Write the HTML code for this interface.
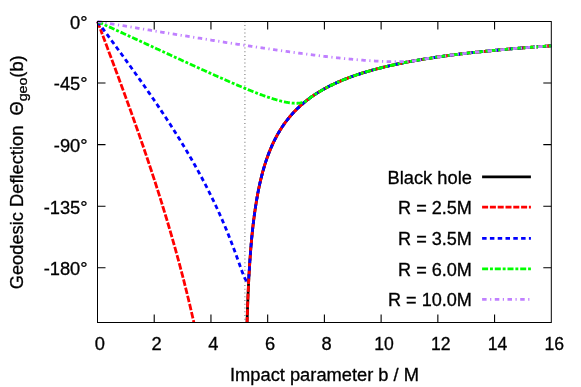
<!DOCTYPE html>
<html><head><meta charset="utf-8"><title>Geodesic Deflection</title>
<style>
html,body{margin:0;padding:0;background:#fff;}
body{width:581px;height:387px;overflow:hidden;}
svg{display:block;will-change:transform;}
text{font-family:"Liberation Sans",sans-serif;fill:#000;stroke:#000;stroke-width:0.3px;}
</style></head><body>
<svg width="581" height="387" viewBox="0 0 581 387">
<rect x="0" y="0" width="581" height="387" fill="#ffffff"/>
<path d="M154.22,322.50 v-8.00 M154.22,21.50 v8.00 M210.95,322.50 v-8.00 M210.95,21.50 v8.00 M267.67,322.50 v-8.00 M267.67,21.50 v8.00 M324.40,322.50 v-8.00 M324.40,21.50 v8.00 M381.12,322.50 v-8.00 M381.12,21.50 v8.00 M437.85,322.50 v-8.00 M437.85,21.50 v8.00 M494.57,322.50 v-8.00 M494.57,21.50 v8.00 M97.50,83.07 h8.00 M551.30,83.07 h-8.00 M97.50,144.64 h8.00 M551.30,144.64 h-8.00 M97.50,206.20 h8.00 M551.30,206.20 h-8.00 M97.50,267.77 h8.00 M551.30,267.77 h-8.00" stroke="#000" stroke-width="1.1" fill="none"/>
<path d="M244.88,21.15 V322.50" stroke="#949494" stroke-width="1.4" stroke-dasharray="1 2.768" fill="none"/>
<g fill="none" stroke-width="2.80" stroke-linejoin="round">
<path d="M247.08,322.50 L247.08,322.21 L247.14,320.28 L247.20,318.40 L247.25,316.57 L247.31,314.79 L247.37,313.04 L247.42,311.34 L247.48,309.67 L247.54,308.05 L247.59,306.45 L247.65,304.90 L247.71,303.37 L247.76,301.88 L247.82,300.41 L247.88,298.97 L247.93,297.57 L247.99,296.19 L248.05,294.83 L248.10,293.50 L248.16,292.19 L248.22,290.91 L248.28,289.65 L248.33,288.41 L248.39,287.19 L248.45,286.00 L248.50,284.82 L248.56,283.66 L248.62,282.52 L248.67,281.40 L248.73,280.29 L248.79,279.20 L248.84,278.13 L248.90,277.07 L248.96,276.03 L249.01,275.01 L249.07,274.00 L249.13,273.00 L249.18,272.02 L249.24,271.05 L249.30,270.09 L249.35,269.15 L249.41,268.21 L249.47,267.30 L249.52,266.39 L249.58,265.49 L249.64,264.61 L249.69,263.74 L249.75,262.87 L249.81,262.02 L249.86,261.18 L249.92,260.35 L249.98,259.53 L250.03,258.71 L250.09,257.91 L250.15,257.12 L250.20,256.33 L250.26,255.56 L250.32,254.79 L250.37,254.03 L250.43,253.28 L250.49,252.54 L250.54,251.80 L250.60,251.07 L250.66,250.35 L250.71,249.64 L250.77,248.94 L250.83,248.24 L250.88,247.55 L250.94,246.87 L251.00,246.19 L251.05,245.52 L251.11,244.86 L251.17,244.20 L251.22,243.55 L251.28,242.90 L251.34,242.26 L251.39,241.63 L251.45,241.00 L251.51,240.38 L251.57,239.77 L251.62,239.16 L251.68,238.55 L251.74,237.95 L251.79,237.36 L251.85,236.77 L251.91,236.19 L251.96,235.61 L252.02,235.04 L252.08,234.47 L252.13,233.90 L252.19,233.34 L252.25,232.79 L252.30,232.24 L252.36,231.69 L252.42,231.15 L252.47,230.62 L252.53,230.08 L252.59,229.56 L252.64,229.03 L252.70,228.51 L252.76,228.00 L252.81,227.48 L252.87,226.98 L252.93,226.47 L252.98,225.97 L253.04,225.48 L253.10,224.98 L253.15,224.49 L253.21,224.01 L253.27,223.53 L253.32,223.05 L253.38,222.57 L253.44,222.10 L253.49,221.63 L253.55,221.17 L253.61,220.71 L253.66,220.25 L253.72,219.79 L253.78,219.34 L253.83,218.89 L253.89,218.45 L253.95,218.01 L254.00,217.57 L254.06,217.13 L254.12,216.70 L254.17,216.26 L254.23,215.84 L254.29,215.41 L254.34,214.99 L254.40,214.57 L254.46,214.15 L254.51,213.74 L254.57,213.33 L254.63,212.92 L254.68,212.51 L254.74,212.11 L254.80,211.71 L254.86,211.31 L254.91,210.91 L254.97,210.52 L255.03,210.13 L255.08,209.74 L255.14,209.35 L255.20,208.97 L255.25,208.58 L255.31,208.20 L255.37,207.83 L255.42,207.45 L255.48,207.08 L255.54,206.71 L255.59,206.34 L255.65,205.97 L255.71,205.61 L255.76,205.25 L255.82,204.89 L255.88,204.53 L255.93,204.17 L255.99,203.82 L256.05,203.46 L256.10,203.11 L256.16,202.77 L256.22,202.42 L256.27,202.08 L256.33,201.73 L256.90,198.41 L257.46,195.25 L258.03,192.25 L258.60,189.39 L259.17,186.66 L259.73,184.05 L260.30,181.55 L260.87,179.15 L261.44,176.85 L262.00,174.64 L262.57,172.50 L263.14,170.45 L263.70,168.47 L264.27,166.55 L264.84,164.70 L265.41,162.91 L265.97,161.18 L266.54,159.50 L267.11,157.87 L267.67,156.28 L268.24,154.75 L268.81,153.26 L269.38,151.81 L269.94,150.39 L270.51,149.02 L271.08,147.68 L271.65,146.38 L272.21,145.11 L272.78,143.87 L273.35,142.66 L273.91,141.48 L274.48,140.33 L275.05,139.20 L275.62,138.10 L276.18,137.02 L276.75,135.97 L277.32,134.94 L277.89,133.93 L278.45,132.95 L279.02,131.98 L279.59,131.03 L280.15,130.11 L280.72,129.20 L281.29,128.31 L281.86,127.43 L282.42,126.57 L282.99,125.73 L283.56,124.91 L284.13,124.10 L284.69,123.30 L285.26,122.52 L285.83,121.75 L286.39,121.00 L286.96,120.25 L287.53,119.53 L288.10,118.81 L288.66,118.10 L289.23,117.41 L289.80,116.73 L290.37,116.06 L290.93,115.40 L291.50,114.75 L292.07,114.11 L292.63,113.48 L293.20,112.86 L293.77,112.25 L294.34,111.65 L294.90,111.06 L295.47,110.47 L296.04,109.90 L296.60,109.33 L297.17,108.77 L297.74,108.22 L298.31,107.68 L298.87,107.14 L299.44,106.61 L300.01,106.09 L300.58,105.58 L301.14,105.07 L301.71,104.57 L302.28,104.08 L302.84,103.59 L303.41,103.11 L303.98,102.64 L304.55,102.17 L305.11,101.71 L305.68,101.25 L306.25,100.80 L306.82,100.35 L307.38,99.91 L307.95,99.48 L308.52,99.05 L309.08,98.62 L309.65,98.21 L310.22,97.79 L310.79,97.38 L311.35,96.98 L311.92,96.58 L312.49,96.18 L313.05,95.79 L313.62,95.41 L314.19,95.03 L314.76,94.65 L315.32,94.27 L315.89,93.91 L316.46,93.54 L317.03,93.18 L317.59,92.82 L318.16,92.47 L318.73,92.12 L319.29,91.77 L319.86,91.43 L320.43,91.09 L321.00,90.76 L321.56,90.42 L322.13,90.10 L322.70,89.77 L323.27,89.45 L323.83,89.13 L324.40,88.82 L325.82,88.04 L327.24,87.29 L328.65,86.55 L330.07,85.83 L331.49,85.13 L332.91,84.44 L334.33,83.77 L335.75,83.11 L337.16,82.47 L338.58,81.85 L340.00,81.23 L341.42,80.63 L342.84,80.04 L344.25,79.47 L345.67,78.90 L347.09,78.35 L348.51,77.81 L349.93,77.28 L351.34,76.76 L352.76,76.25 L354.18,75.75 L355.60,75.26 L357.02,74.78 L358.44,74.31 L359.85,73.84 L361.27,73.39 L362.69,72.94 L364.11,72.50 L365.53,72.07 L366.94,71.65 L368.36,71.23 L369.78,70.82 L371.20,70.42 L372.62,70.02 L374.03,69.63 L375.45,69.25 L376.87,68.87 L378.29,68.50 L379.71,68.14 L381.12,67.78 L382.54,67.43 L383.96,67.08 L385.38,66.74 L386.80,66.40 L388.22,66.07 L389.63,65.75 L391.05,65.42 L392.47,65.11 L393.89,64.80 L395.31,64.49 L396.72,64.19 L398.14,63.89 L399.56,63.59 L400.98,63.30 L402.40,63.02 L403.81,62.74 L405.23,62.46 L406.65,62.18 L408.07,61.91 L409.49,61.65 L410.91,61.38 L412.32,61.12 L413.74,60.87 L415.16,60.62 L416.58,60.37 L418.00,60.12 L419.41,59.88 L420.83,59.64 L422.25,59.40 L423.67,59.17 L425.09,58.93 L426.50,58.71 L427.92,58.48 L429.34,58.26 L430.76,58.04 L432.18,57.82 L433.60,57.61 L435.01,57.40 L436.43,57.19 L437.85,56.98 L439.27,56.78 L440.69,56.57 L442.10,56.37 L443.52,56.18 L444.94,55.98 L446.36,55.79 L447.78,55.60 L449.19,55.41 L450.61,55.22 L452.03,55.04 L453.45,54.86 L454.87,54.68 L456.29,54.50 L457.70,54.32 L459.12,54.15 L460.54,53.98 L461.96,53.80 L463.38,53.64 L464.79,53.47 L466.21,53.30 L467.63,53.14 L469.05,52.98 L470.47,52.82 L471.88,52.66 L473.30,52.50 L474.72,52.35 L476.14,52.19 L477.56,52.04 L478.98,51.89 L480.39,51.74 L481.81,51.59 L483.23,51.45 L484.65,51.30 L486.07,51.16 L487.48,51.02 L488.90,50.88 L490.32,50.74 L491.74,50.60 L493.16,50.46 L494.57,50.33 L495.99,50.19 L497.41,50.06 L498.83,49.93 L500.25,49.80 L501.67,49.67 L503.08,49.54 L504.50,49.42 L505.92,49.29 L507.34,49.17 L508.76,49.04 L510.17,48.92 L511.59,48.80 L513.01,48.68 L514.43,48.56 L515.85,48.44 L517.26,48.33 L518.68,48.21 L520.10,48.09 L521.52,47.98 L522.94,47.87 L524.36,47.76 L525.77,47.65 L527.19,47.54 L528.61,47.43 L530.03,47.32 L531.45,47.21 L532.86,47.10 L534.28,47.00 L535.70,46.89 L537.12,46.79 L538.54,46.69 L539.95,46.59 L541.37,46.48 L542.79,46.38 L544.21,46.29 L545.63,46.19 L547.05,46.09 L548.46,45.99 L549.88,45.89 L551.30,45.80" stroke="#000000"/>
<path d="M97.50,21.50 L98.92,25.26 L99.82,27.66 M100.46,29.34 L101.75,32.79 L102.27,34.16 M102.90,35.84 L103.17,36.56 L104.59,40.33 L105.13,41.76 M105.76,43.44 L106.01,44.10 L107.43,47.88 L108.18,49.90 M108.82,51.58 L108.84,51.66 L110.26,55.44 L111.23,58.03 M111.86,59.72 L113.10,63.03 L114.27,66.17 M114.90,67.86 L115.94,70.65 L117.29,74.31 M117.92,76.00 L118.77,78.30 L120.19,82.14 L120.30,82.45 M120.92,84.13 L121.61,85.99 L123.03,89.86 L123.29,90.58 M123.91,92.27 L124.44,93.73 L125.86,97.62 L126.26,98.72 M126.88,100.41 L127.28,101.52 L128.70,105.43 L129.21,106.86 M129.82,108.55 L130.12,109.36 L131.53,113.31 L132.14,114.99 M132.74,116.69 L132.95,117.27 L134.37,121.26 L135.04,123.13 M135.64,124.83 L135.79,125.26 L137.21,129.28 L137.91,131.27 M138.50,132.97 L138.63,133.32 L140.04,137.38 L140.75,139.41 M141.34,141.11 L141.46,141.46 L142.88,145.57 L143.56,147.54 M144.14,149.25 L144.30,149.70 L145.72,153.86 L146.33,155.68 M146.91,157.38 L147.13,158.05 L148.55,162.26 L149.07,163.82 M149.64,165.52 L149.97,166.50 L151.39,170.77 L151.78,171.95 M152.34,173.66 L152.81,175.08 L154.22,179.42 L154.44,180.09 M155.00,181.80 L155.64,183.79 L157.06,188.20 L157.07,188.23 M157.62,189.94 L158.48,192.65 L159.65,196.36 M160.19,198.08 L161.32,201.66 L162.20,204.50 M162.73,206.22 L162.73,206.23 L164.15,210.85 L164.70,212.64 M165.22,214.36 L165.57,215.51 L166.99,220.22 L167.15,220.77 M167.67,222.50 L168.41,224.98 L169.56,228.91 M170.07,230.64 L171.24,234.67 L171.93,237.05 M172.43,238.78 L172.66,239.59 L174.08,244.58 L174.25,245.18 M174.73,246.92 L175.50,249.64 L176.52,253.32 M177.00,255.06 L178.33,259.94 L178.74,261.46 M179.21,263.19 L179.75,265.21 L180.92,269.59 M181.38,271.33 L182.59,275.96 L183.04,277.73 M183.49,279.47 L184.01,281.47 L185.12,285.87 M185.56,287.61 L186.84,292.75 L187.15,294.00 M187.58,295.75 L188.26,298.53 L189.13,302.14 M189.55,303.89 L189.68,304.42 L191.06,310.28 M191.47,312.03 L192.51,316.53 L192.94,318.41 M193.34,320.17 L193.87,322.50" stroke="#ff0000"/>
<path d="M247.08,322.50 L247.08,322.21 L247.14,320.28 L247.20,318.40 L247.24,317.00 M247.30,315.20 L247.31,314.79 L247.37,313.04 L247.42,311.34 L247.48,309.67 L247.50,309.21 M247.56,307.41 L247.59,306.45 L247.65,304.90 L247.71,303.37 L247.76,301.88 L247.78,301.41 M247.85,299.61 L247.88,298.97 L247.93,297.57 L247.99,296.19 L248.05,294.83 L248.10,293.62 M248.18,291.82 L248.22,290.91 L248.28,289.65 L248.33,288.41 L248.39,287.19 L248.45,286.00 L248.45,285.83 M248.54,284.03 L248.56,283.66 L248.62,282.52 L248.67,281.40 L248.73,280.29 L248.79,279.20 L248.84,278.13 L248.85,278.04 M248.94,276.24 L248.96,276.03 L249.01,275.01 L249.07,274.00 L249.13,273.00 L249.18,272.02 L249.24,271.05 L249.29,270.25 M249.40,268.45 L249.41,268.21 L249.47,267.30 L249.52,266.39 L249.58,265.49 L249.64,264.61 L249.69,263.74 L249.75,262.87 L249.78,262.46 M249.90,260.67 L249.92,260.35 L249.98,259.53 L250.03,258.71 L250.09,257.91 L250.15,257.12 L250.20,256.33 L250.26,255.56 L250.32,254.79 L250.32,254.68 M250.46,252.89 L250.49,252.54 L250.54,251.80 L250.60,251.07 L250.66,250.35 L250.71,249.64 L250.77,248.94 L250.83,248.24 L250.88,247.55 L250.94,246.91 M251.09,245.11 L251.11,244.86 L251.17,244.20 L251.22,243.55 L251.28,242.90 L251.34,242.26 L251.39,241.63 L251.45,241.00 L251.51,240.38 L251.57,239.77 L251.62,239.16 L251.62,239.14 M251.79,237.35 L251.85,236.77 L251.91,236.19 L251.96,235.61 L252.02,235.04 L252.08,234.47 L252.13,233.90 L252.19,233.34 L252.25,232.79 L252.30,232.24 L252.36,231.69 L252.39,231.38 M252.58,229.59 L252.59,229.56 L252.64,229.03 L252.70,228.51 L252.76,228.00 L252.81,227.48 L252.87,226.98 L252.93,226.47 L252.98,225.97 L253.04,225.48 L253.10,224.98 L253.15,224.49 L253.21,224.01 L253.26,223.62 M253.47,221.84 L253.49,221.63 L253.55,221.17 L253.61,220.71 L253.66,220.25 L253.72,219.79 L253.78,219.34 L253.83,218.89 L253.89,218.45 L253.95,218.01 L254.00,217.57 L254.06,217.13 L254.12,216.70 L254.17,216.26 L254.22,215.88 M254.47,214.10 L254.51,213.74 L254.57,213.33 L254.63,212.92 L254.68,212.51 L254.74,212.11 L254.80,211.71 L254.86,211.31 L254.91,210.91 L254.97,210.52 L255.03,210.13 L255.08,209.74 L255.14,209.35 L255.20,208.97 L255.25,208.58 L255.31,208.20 L255.32,208.16 M255.59,206.38 L255.59,206.34 L255.65,205.97 L255.71,205.61 L255.76,205.25 L255.82,204.89 L255.88,204.53 L255.93,204.17 L255.99,203.82 L256.05,203.46 L256.10,203.11 L256.16,202.77 L256.22,202.42 L256.27,202.08 L256.33,201.73 L256.55,200.46 M256.85,198.68 L256.90,198.41 L257.46,195.25 L257.93,192.78 M258.28,191.02 L258.60,189.39 L259.17,186.66 L259.50,185.14 M259.89,183.38 L260.30,181.55 L260.87,179.15 L261.26,177.55 M261.70,175.80 L262.00,174.64 L262.57,172.50 L263.14,170.45 L263.26,170.01 M263.76,168.28 L264.27,166.55 L264.84,164.70 L265.41,162.91 L265.53,162.54 M266.09,160.83 L266.54,159.50 L267.11,157.87 L267.67,156.28 L268.09,155.17 M268.72,153.49 L268.81,153.26 L269.38,151.81 L269.94,150.39 L270.51,149.02 L270.97,147.93 M271.69,146.28 L272.21,145.11 L272.78,143.87 L273.35,142.66 L273.91,141.48 L274.23,140.84 M275.03,139.23 L275.05,139.20 L275.62,138.10 L276.18,137.02 L276.75,135.97 L277.32,134.94 L277.88,133.95 M278.78,132.39 L279.02,131.98 L279.59,131.03 L280.15,130.11 L280.72,129.20 L281.29,128.31 L281.86,127.43 L281.95,127.30 M282.95,125.80 L282.99,125.73 L283.56,124.91 L284.13,124.10 L284.69,123.30 L285.26,122.52 L285.83,121.75 L286.39,121.00 L286.45,120.93 M287.55,119.50 L288.10,118.81 L288.66,118.10 L289.23,117.41 L289.80,116.73 L290.37,116.06 L290.93,115.40 L291.38,114.89 M292.58,113.54 L292.63,113.48 L293.20,112.86 L293.77,112.25 L294.34,111.65 L294.90,111.06 L295.47,110.47 L296.04,109.90 L296.60,109.33 L296.73,109.21 M298.02,107.96 L298.31,107.68 L298.87,107.14 L299.44,106.61 L300.01,106.09 L300.58,105.58 L301.14,105.07 L301.71,104.57 L302.28,104.08 L302.46,103.92 M303.83,102.76 L303.98,102.64 L304.55,102.17 L305.11,101.71 L305.68,101.25 L306.25,100.80 L306.82,100.35 L307.38,99.91 L307.95,99.48 L308.52,99.05 L308.53,99.04 M309.98,97.96 L310.22,97.79 L310.79,97.38 L311.35,96.98 L311.92,96.58 L312.49,96.18 L313.05,95.79 L313.62,95.41 L314.19,95.03 L314.76,94.65 L314.91,94.55 M316.42,93.56 L316.46,93.54 L317.03,93.18 L317.59,92.82 L318.16,92.47 L318.73,92.12 L319.29,91.77 L319.86,91.43 L320.43,91.09 L321.00,90.76 L321.54,90.44 M323.10,89.54 L323.27,89.45 L323.83,89.13 L324.40,88.82 L325.82,88.04 L327.24,87.29 L328.38,86.69 M329.99,85.87 L330.07,85.83 L331.49,85.13 L332.91,84.44 L334.33,83.77 L335.39,83.28 M337.03,82.53 L337.16,82.47 L338.58,81.85 L340.00,81.23 L341.42,80.63 L342.54,80.16 M344.21,79.48 L344.25,79.47 L345.67,78.90 L347.09,78.35 L348.51,77.81 L349.81,77.32 M351.50,76.70 L352.76,76.25 L354.18,75.75 L355.60,75.26 L357.02,74.78 L357.16,74.73 M358.87,74.16 L359.85,73.84 L361.27,73.39 L362.69,72.94 L364.11,72.50 L364.59,72.35 M366.32,71.83 L366.94,71.65 L368.36,71.23 L369.78,70.82 L371.20,70.42 L372.08,70.17 M373.82,69.69 L374.03,69.63 L375.45,69.25 L376.87,68.87 L378.29,68.50 L379.62,68.16 M381.36,67.72 L382.54,67.43 L383.96,67.08 L385.38,66.74 L386.80,66.40 L387.20,66.31 M388.95,65.90 L389.63,65.75 L391.05,65.42 L392.47,65.11 L393.89,64.80 L394.80,64.60 M396.56,64.22 L396.72,64.19 L398.14,63.89 L399.56,63.59 L400.98,63.30 L402.40,63.02 L402.44,63.01 M404.21,62.66 L405.23,62.46 L406.65,62.18 L408.07,61.91 L409.49,61.65 L410.10,61.53 M411.87,61.21 L412.32,61.12 L413.74,60.87 L415.16,60.62 L416.58,60.37 L417.78,60.16 M419.55,59.85 L420.83,59.64 L422.25,59.40 L423.67,59.17 L425.09,58.93 L425.47,58.87 M427.25,58.59 L427.92,58.48 L429.34,58.26 L430.76,58.04 L432.18,57.82 L433.18,57.67 M434.96,57.40 L435.01,57.40 L436.43,57.19 L437.85,56.98 L439.27,56.78 L440.69,56.57 L440.90,56.54 M442.68,56.29 L443.52,56.18 L444.94,55.98 L446.36,55.79 L447.78,55.60 L448.62,55.49 M450.41,55.25 L450.61,55.22 L452.03,55.04 L453.45,54.86 L454.87,54.68 L456.29,54.50 L456.36,54.49 M458.15,54.27 L459.12,54.15 L460.54,53.98 L461.96,53.80 L463.38,53.64 L464.10,53.55 M465.89,53.34 L466.21,53.30 L467.63,53.14 L469.05,52.98 L470.47,52.82 L471.85,52.66 M473.64,52.47 L474.72,52.35 L476.14,52.19 L477.56,52.04 L478.98,51.89 L479.61,51.82 M481.40,51.64 L481.81,51.59 L483.23,51.45 L484.65,51.30 L486.07,51.16 L487.37,51.03 M489.16,50.85 L490.32,50.74 L491.74,50.60 L493.16,50.46 L494.57,50.33 L495.13,50.28 M496.92,50.11 L497.41,50.06 L498.83,49.93 L500.25,49.80 L501.67,49.67 L502.90,49.56 M504.69,49.40 L505.92,49.29 L507.34,49.17 L508.76,49.04 L510.17,48.92 L510.67,48.88 M512.46,48.73 L513.01,48.68 L514.43,48.56 L515.85,48.44 L517.26,48.33 L518.44,48.23 M520.23,48.08 L521.52,47.98 L522.94,47.87 L524.36,47.76 L525.77,47.65 L526.22,47.61 M528.01,47.47 L528.61,47.43 L530.03,47.32 L531.45,47.21 L532.86,47.10 L533.99,47.02 M535.79,46.89 L537.12,46.79 L538.54,46.69 L539.95,46.59 L541.37,46.48 L541.77,46.46 M543.57,46.33 L544.21,46.29 L545.63,46.19 L547.05,46.09 L548.46,45.99 L549.55,45.92" stroke="#ff0000"/>
<path d="M97.50,21.50 L98.92,23.42 L100.34,25.34 L101.75,27.26 L103.17,29.18 L104.59,31.10 L106.01,33.03 L107.43,34.95 L108.84,36.87 L110.26,38.80 L111.68,40.73 L113.10,42.66 L114.52,44.59 L115.94,46.52 L117.35,48.46 L118.77,50.40 L120.19,52.34 L121.61,54.29 L123.03,56.23 L124.44,58.18 L125.86,60.14 L127.28,62.10 L128.70,64.06 L130.12,66.03 L131.53,68.00 L132.95,69.97 L134.37,71.95 L135.79,73.94 L137.21,75.93 L138.63,77.93 L140.04,79.93 L141.46,81.94 L142.88,83.95 L144.30,85.98 L145.72,88.00 L147.13,90.04 L148.55,92.08 L149.97,94.13 L151.39,96.19 L152.81,98.26 L154.22,100.33 L155.64,102.42 L157.06,104.51 L158.48,106.61 L159.90,108.72 L161.32,110.85 L162.73,112.98 L164.15,115.12 L165.57,117.28 L166.99,119.45 L168.41,121.63 L169.82,123.82 L171.24,126.02 L172.66,128.24 L174.08,130.48 L175.50,132.72 L176.92,134.99 L178.33,137.26 L179.75,139.56 L181.17,141.87 L182.59,144.20 L184.01,146.54 L185.42,148.91 L186.84,151.29 L188.26,153.69 L189.68,156.12 L191.10,158.56 L192.51,161.03 L193.93,163.52 L195.35,166.04 L196.77,168.58 L198.19,171.15 L199.60,173.74 L201.02,176.37 L202.44,179.02 L203.86,181.70 L205.28,184.42 L206.70,187.17 L208.11,189.95 L209.53,192.77 L210.95,195.63 L212.37,198.53 L213.79,201.47 L215.20,204.45 L216.62,207.48 L218.04,210.56 L219.46,213.69 L220.88,216.87 L222.30,220.10 L223.71,223.39 L225.13,226.74 L226.55,230.16 L227.97,233.64 L229.39,237.18 L230.80,240.80 L232.22,244.48 L233.64,248.24 L235.06,252.06 L236.48,255.94 L237.89,259.87 L239.31,263.83 L240.73,267.78 L242.15,271.65 L243.57,275.31 L243.85,276.00 L243.91,276.13 L243.96,276.27 L244.02,276.40 L244.08,276.53 L244.13,276.66 L244.19,276.80 L244.25,276.93 L244.30,277.05 L244.36,277.18 L244.42,277.31 L244.47,277.43 L244.53,277.56 L244.59,277.68 L244.64,277.80 L244.70,277.92 L244.76,278.04 L244.81,278.16 L244.87,278.28 L244.93,278.39 L244.98,278.51 L245.04,278.62 L245.10,278.73 L245.16,278.84 L245.21,278.95 L245.27,279.05 L245.33,279.16 L245.38,279.26 L245.44,279.36 L245.50,279.46 L245.55,279.55 L245.61,279.65 L245.67,279.74 L245.72,279.83 L245.78,279.91 L245.84,280.00 L245.89,280.08 L245.95,280.16 L246.01,280.24 L246.06,280.31 L246.12,280.38 L246.18,280.45 L246.23,280.52 L246.29,280.58 L246.35,280.64 L246.40,280.69 L246.46,280.74 L246.52,280.79 L246.57,280.84 L246.63,280.88 L246.69,280.91 L246.74,280.95 L246.80,280.97 L246.86,281.00 L246.91,281.01 L246.97,281.03 L247.03,281.03 L247.08,281.04 L247.14,281.03 L247.20,281.02 L247.25,281.01 L247.31,280.99 L247.37,280.96 L247.42,280.92 L247.48,280.88 L247.54,280.83 L247.59,280.77 L247.65,280.70 L247.71,280.62 L247.76,280.54 L247.82,280.44 L247.88,280.33 L247.93,280.22 L247.99,280.09 L248.05,279.94 L248.10,279.79 L248.16,279.62 L248.22,279.44 L248.28,279.24 L248.33,279.02 L248.39,278.79 L248.45,278.54 L248.50,278.26 L248.56,277.97 L248.62,277.65 L248.67,277.30 L248.73,276.92 L248.79,276.51 L248.84,276.07 L248.90,275.58 L248.96,275.04 L249.01,274.44 L249.07,273.77 L249.13,272.99 L249.18,272.02 L249.24,271.05 L249.30,270.09 L249.35,269.15 L249.41,268.21 L249.47,267.30 L249.52,266.39 L249.58,265.49 L249.64,264.61 L249.69,263.74 L249.75,262.87 L249.81,262.02 L249.86,261.18 L249.92,260.35 L249.98,259.53 L250.03,258.71 L250.09,257.91 L250.15,257.12 L250.20,256.33 L250.26,255.56 L250.32,254.79 L250.37,254.03 L250.43,253.28 L250.49,252.54 L250.54,251.80 L250.60,251.07 L250.66,250.35 L250.71,249.64 L250.77,248.94 L250.83,248.24 L250.88,247.55 L250.94,246.87 L251.00,246.19 L251.05,245.52 L251.11,244.86 L251.17,244.20 L251.22,243.55 L251.28,242.90 L251.34,242.26 L251.39,241.63 L251.45,241.00 L251.51,240.38 L251.57,239.77 L251.62,239.16 L251.68,238.55 L251.74,237.95 L251.79,237.36 L251.85,236.77 L251.91,236.19 L251.96,235.61 L252.02,235.04 L252.08,234.47 L252.13,233.90 L252.19,233.34 L252.25,232.79 L252.30,232.24 L252.36,231.69 L252.42,231.15 L252.47,230.62 L252.53,230.08 L252.59,229.56 L252.64,229.03 L252.70,228.51 L252.76,228.00 L252.81,227.48 L252.87,226.98 L252.93,226.47 L252.98,225.97 L253.04,225.48 L253.10,224.98 L253.15,224.49 L253.21,224.01 L253.27,223.53 L253.32,223.05 L253.38,222.57 L253.44,222.10 L253.49,221.63 L253.55,221.17 L253.61,220.71 L253.66,220.25 L253.72,219.79 L253.78,219.34 L253.83,218.89 L253.89,218.45 L253.95,218.01 L254.00,217.57 L254.06,217.13 L254.12,216.70 L254.17,216.26 L254.23,215.84 L254.29,215.41 L254.34,214.99 L254.40,214.57 L254.46,214.15 L254.51,213.74 L254.57,213.33 L254.63,212.92 L254.68,212.51 L254.74,212.11 L254.80,211.71 L254.86,211.31 L254.91,210.91 L254.97,210.52 L255.03,210.13 L255.08,209.74 L255.14,209.35 L255.20,208.97 L255.25,208.58 L255.31,208.20 L255.37,207.83 L255.42,207.45 L255.48,207.08 L255.54,206.71 L255.59,206.34 L255.65,205.97 L255.71,205.61 L255.76,205.25 L255.82,204.89 L255.88,204.53 L255.93,204.17 L255.99,203.82 L256.05,203.46 L256.10,203.11 L256.16,202.77 L256.22,202.42 L256.27,202.08 L256.33,201.73 L256.90,198.41 L257.46,195.25 L258.03,192.25 L258.60,189.39 L259.17,186.66 L259.73,184.05 L260.30,181.55 L260.87,179.15 L261.44,176.85 L262.00,174.64 L262.57,172.50 L263.14,170.45 L263.70,168.47 L264.27,166.55 L264.84,164.70 L265.41,162.91 L265.97,161.18 L266.54,159.50 L267.11,157.87 L267.67,156.28 L268.24,154.75 L268.81,153.26 L269.38,151.81 L269.94,150.39 L270.51,149.02 L271.08,147.68 L271.65,146.38 L272.21,145.11 L272.78,143.87 L273.35,142.66 L273.91,141.48 L274.48,140.33 L275.05,139.20 L275.62,138.10 L276.18,137.02 L276.75,135.97 L277.32,134.94 L277.89,133.93 L278.45,132.95 L279.02,131.98 L279.59,131.03 L280.15,130.11 L280.72,129.20 L281.29,128.31 L281.86,127.43 L282.42,126.57 L282.99,125.73 L283.56,124.91 L284.13,124.10 L284.69,123.30 L285.26,122.52 L285.83,121.75 L286.39,121.00 L286.96,120.25 L287.53,119.53 L288.10,118.81 L288.66,118.10 L289.23,117.41 L289.80,116.73 L290.37,116.06 L290.93,115.40 L291.50,114.75 L292.07,114.11 L292.63,113.48 L293.20,112.86 L293.77,112.25 L294.34,111.65 L294.90,111.06 L295.47,110.47 L296.04,109.90 L296.60,109.33 L297.17,108.77 L297.74,108.22 L298.31,107.68 L298.87,107.14 L299.44,106.61 L300.01,106.09 L300.58,105.58 L301.14,105.07 L301.71,104.57 L302.28,104.08 L302.84,103.59 L303.41,103.11 L303.98,102.64 L304.55,102.17 L305.11,101.71 L305.68,101.25 L306.25,100.80 L306.82,100.35 L307.38,99.91 L307.95,99.48 L308.52,99.05 L309.08,98.62 L309.65,98.21 L310.22,97.79 L310.79,97.38 L311.35,96.98 L311.92,96.58 L312.49,96.18 L313.05,95.79 L313.62,95.41 L314.19,95.03 L314.76,94.65 L315.32,94.27 L315.89,93.91 L316.46,93.54 L317.03,93.18 L317.59,92.82 L318.16,92.47 L318.73,92.12 L319.29,91.77 L319.86,91.43 L320.43,91.09 L321.00,90.76 L321.56,90.42 L322.13,90.10 L322.70,89.77 L323.27,89.45 L323.83,89.13 L324.40,88.82 L325.82,88.04 L327.24,87.29 L328.65,86.55 L330.07,85.83 L331.49,85.13 L332.91,84.44 L334.33,83.77 L335.75,83.11 L337.16,82.47 L338.58,81.85 L340.00,81.23 L341.42,80.63 L342.84,80.04 L344.25,79.47 L345.67,78.90 L347.09,78.35 L348.51,77.81 L349.93,77.28 L351.34,76.76 L352.76,76.25 L354.18,75.75 L355.60,75.26 L357.02,74.78 L358.44,74.31 L359.85,73.84 L361.27,73.39 L362.69,72.94 L364.11,72.50 L365.53,72.07 L366.94,71.65 L368.36,71.23 L369.78,70.82 L371.20,70.42 L372.62,70.02 L374.03,69.63 L375.45,69.25 L376.87,68.87 L378.29,68.50 L379.71,68.14 L381.12,67.78 L382.54,67.43 L383.96,67.08 L385.38,66.74 L386.80,66.40 L388.22,66.07 L389.63,65.75 L391.05,65.42 L392.47,65.11 L393.89,64.80 L395.31,64.49 L396.72,64.19 L398.14,63.89 L399.56,63.59 L400.98,63.30 L402.40,63.02 L403.81,62.74 L405.23,62.46 L406.65,62.18 L408.07,61.91 L409.49,61.65 L410.91,61.38 L412.32,61.12 L413.74,60.87 L415.16,60.62 L416.58,60.37 L418.00,60.12 L419.41,59.88 L420.83,59.64 L422.25,59.40 L423.67,59.17 L425.09,58.93 L426.50,58.71 L427.92,58.48 L429.34,58.26 L430.76,58.04 L432.18,57.82 L433.60,57.61 L435.01,57.40 L436.43,57.19 L437.85,56.98 L439.27,56.78 L440.69,56.57 L442.10,56.37 L443.52,56.18 L444.94,55.98 L446.36,55.79 L447.78,55.60 L449.19,55.41 L450.61,55.22 L452.03,55.04 L453.45,54.86 L454.87,54.68 L456.29,54.50 L457.70,54.32 L459.12,54.15 L460.54,53.98 L461.96,53.80 L463.38,53.64 L464.79,53.47 L466.21,53.30 L467.63,53.14 L469.05,52.98 L470.47,52.82 L471.88,52.66 L473.30,52.50 L474.72,52.35 L476.14,52.19 L477.56,52.04 L478.98,51.89 L480.39,51.74 L481.81,51.59 L483.23,51.45 L484.65,51.30 L486.07,51.16 L487.48,51.02 L488.90,50.88 L490.32,50.74 L491.74,50.60 L493.16,50.46 L494.57,50.33 L495.99,50.19 L497.41,50.06 L498.83,49.93 L500.25,49.80 L501.67,49.67 L503.08,49.54 L504.50,49.42 L505.92,49.29 L507.34,49.17 L508.76,49.04 L510.17,48.92 L511.59,48.80 L513.01,48.68 L514.43,48.56 L515.85,48.44 L517.26,48.33 L518.68,48.21 L520.10,48.09 L521.52,47.98 L522.94,47.87 L524.36,47.76 L525.77,47.65 L527.19,47.54 L528.61,47.43 L530.03,47.32 L531.45,47.21 L532.86,47.10 L534.28,47.00 L535.70,46.89 L537.12,46.79 L538.54,46.69 L539.95,46.59 L541.37,46.48 L542.79,46.38 L544.21,46.29 L545.63,46.19 L547.05,46.09 L548.46,45.99 L549.88,45.89 L551.30,45.80" stroke="#0000ff" stroke-dasharray="4.5 3.3"/>
<path d="M97.50,21.50 L98.92,22.15 L100.34,22.81 L101.75,23.46 L103.17,24.11 L104.59,24.77 L106.01,25.42 L107.43,26.07 L108.84,26.73 L110.26,27.38 L111.68,28.03 L113.10,28.69 L114.52,29.34 L115.94,29.99 L117.35,30.65 L118.77,31.30 L120.19,31.95 L121.61,32.61 L123.03,33.26 L124.44,33.91 L125.86,34.56 L127.28,35.22 L128.70,35.87 L130.12,36.52 L131.53,37.18 L132.95,37.83 L134.37,38.48 L135.79,39.14 L137.21,39.79 L138.63,40.44 L140.04,41.10 L141.46,41.75 L142.88,42.40 L144.30,43.06 L145.72,43.71 L147.13,44.36 L148.55,45.01 L149.97,45.67 L151.39,46.32 L152.81,46.97 L154.22,47.62 L155.64,48.28 L157.06,48.93 L158.48,49.58 L159.90,50.23 L161.32,50.89 L162.73,51.54 L164.15,52.19 L165.57,52.84 L166.99,53.49 L168.41,54.14 L169.82,54.80 L171.24,55.45 L172.66,56.10 L174.08,56.75 L175.50,57.40 L176.92,58.05 L178.33,58.70 L179.75,59.35 L181.17,60.00 L182.59,60.65 L184.01,61.30 L185.42,61.94 L186.84,62.59 L188.26,63.24 L189.68,63.89 L191.10,64.53 L192.51,65.18 L193.93,65.83 L195.35,66.47 L196.77,67.12 L198.19,67.76 L199.60,68.40 L201.02,69.05 L202.44,69.69 L203.86,70.33 L205.28,70.97 L206.70,71.61 L208.11,72.25 L209.53,72.89 L210.95,73.53 L212.37,74.16 L213.79,74.80 L215.20,75.43 L216.62,76.06 L218.04,76.70 L219.46,77.33 L220.88,77.95 L222.30,78.58 L223.71,79.21 L225.13,79.83 L226.55,80.45 L227.97,81.07 L229.39,81.69 L230.80,82.31 L232.22,82.92 L233.64,83.54 L235.06,84.15 L236.48,84.75 L237.89,85.36 L239.31,85.96 L240.73,86.56 L242.15,87.15 L243.57,87.75 L243.85,87.86 L243.91,87.89 L243.96,87.91 L244.02,87.94 L244.08,87.96 L244.13,87.98 L244.19,88.01 L244.25,88.03 L244.30,88.05 L244.36,88.08 L244.42,88.10 L244.47,88.12 L244.53,88.15 L244.59,88.17 L244.64,88.19 L244.70,88.22 L244.76,88.24 L244.81,88.26 L244.87,88.29 L244.93,88.31 L244.98,88.34 L245.04,88.36 L245.10,88.38 L245.16,88.41 L245.21,88.43 L245.27,88.45 L245.33,88.48 L245.38,88.50 L245.44,88.52 L245.50,88.55 L245.55,88.57 L245.61,88.59 L245.67,88.62 L245.72,88.64 L245.78,88.66 L245.84,88.69 L245.89,88.71 L245.95,88.73 L246.01,88.76 L246.06,88.78 L246.12,88.80 L246.18,88.83 L246.23,88.85 L246.29,88.87 L246.35,88.90 L246.40,88.92 L246.46,88.94 L246.52,88.97 L246.57,88.99 L246.63,89.01 L246.69,89.04 L246.74,89.06 L246.80,89.08 L246.86,89.11 L246.91,89.13 L246.97,89.15 L247.03,89.18 L247.08,89.20 L247.14,89.22 L247.20,89.25 L247.25,89.27 L247.31,89.29 L247.37,89.32 L247.42,89.34 L247.48,89.36 L247.54,89.39 L247.59,89.41 L247.65,89.43 L247.71,89.45 L247.76,89.48 L247.82,89.50 L247.88,89.52 L247.93,89.55 L247.99,89.57 L248.05,89.59 L248.10,89.62 L248.16,89.64 L248.22,89.66 L248.28,89.69 L248.33,89.71 L248.39,89.73 L248.45,89.76 L248.50,89.78 L248.56,89.80 L248.62,89.82 L248.67,89.85 L248.73,89.87 L248.79,89.89 L248.84,89.92 L248.90,89.94 L248.96,89.96 L249.01,89.99 L249.07,90.01 L249.13,90.03 L249.18,90.06 L249.24,90.08 L249.30,90.10 L249.35,90.12 L249.41,90.15 L249.47,90.17 L249.52,90.19 L249.58,90.22 L249.64,90.24 L249.69,90.26 L249.75,90.28 L249.81,90.31 L249.86,90.33 L249.92,90.35 L249.98,90.38 L250.03,90.40 L250.09,90.42 L250.15,90.44 L250.20,90.47 L250.26,90.49 L250.32,90.51 L250.37,90.54 L250.43,90.56 L250.49,90.58 L250.54,90.60 L250.60,90.63 L250.66,90.65 L250.71,90.67 L250.77,90.70 L250.83,90.72 L250.88,90.74 L250.94,90.76 L251.00,90.79 L251.05,90.81 L251.11,90.83 L251.17,90.86 L251.22,90.88 L251.28,90.90 L251.34,90.92 L251.39,90.95 L251.45,90.97 L251.51,90.99 L251.57,91.01 L251.62,91.04 L251.68,91.06 L251.74,91.08 L251.79,91.10 L251.85,91.13 L251.91,91.15 L251.96,91.17 L252.02,91.20 L252.08,91.22 L252.13,91.24 L252.19,91.26 L252.25,91.29 L252.30,91.31 L252.36,91.33 L252.42,91.35 L252.47,91.38 L252.53,91.40 L252.59,91.42 L252.64,91.44 L252.70,91.47 L252.76,91.49 L252.81,91.51 L252.87,91.53 L252.93,91.56 L252.98,91.58 L253.04,91.60 L253.10,91.62 L253.15,91.65 L253.21,91.67 L253.27,91.69 L253.32,91.71 L253.38,91.74 L253.44,91.76 L253.49,91.78 L253.55,91.80 L253.61,91.83 L253.66,91.85 L253.72,91.87 L253.78,91.89 L253.83,91.91 L253.89,91.94 L253.95,91.96 L254.00,91.98 L254.06,92.00 L254.12,92.03 L254.17,92.05 L254.23,92.07 L254.29,92.09 L254.34,92.12 L254.40,92.14 L254.46,92.16 L254.51,92.18 L254.57,92.20 L254.63,92.23 L254.68,92.25 L254.74,92.27 L254.80,92.29 L254.86,92.32 L254.91,92.34 L254.97,92.36 L255.03,92.38 L255.08,92.40 L255.14,92.43 L255.20,92.45 L255.25,92.47 L255.31,92.49 L255.37,92.52 L255.42,92.54 L255.48,92.56 L255.54,92.58 L255.59,92.60 L255.65,92.63 L255.71,92.65 L255.76,92.67 L255.82,92.69 L255.88,92.71 L255.93,92.74 L255.99,92.76 L256.05,92.78 L256.10,92.80 L256.16,92.82 L256.22,92.85 L256.27,92.87 L256.33,92.89 L256.90,93.11 L257.46,93.33 L258.03,93.54 L258.60,93.76 L259.17,93.97 L259.73,94.19 L260.30,94.40 L260.87,94.61 L261.44,94.82 L262.00,95.03 L262.57,95.24 L263.14,95.45 L263.70,95.65 L264.27,95.86 L264.84,96.06 L265.41,96.26 L265.97,96.46 L266.54,96.66 L267.11,96.86 L267.67,97.05 L268.24,97.25 L268.81,97.44 L269.38,97.63 L269.94,97.82 L270.51,98.01 L271.08,98.19 L271.65,98.38 L272.21,98.56 L272.78,98.74 L273.35,98.91 L273.91,99.09 L274.48,99.26 L275.05,99.43 L275.62,99.60 L276.18,99.77 L276.75,99.93 L277.32,100.10 L277.89,100.25 L278.45,100.41 L279.02,100.56 L279.59,100.72 L280.15,100.86 L280.72,101.01 L281.29,101.15 L281.86,101.29 L282.42,101.42 L282.99,101.56 L283.56,101.69 L284.13,101.81 L284.69,101.93 L285.26,102.05 L285.83,102.16 L286.39,102.27 L286.96,102.38 L287.53,102.48 L288.10,102.57 L288.66,102.66 L289.23,102.75 L289.80,102.83 L290.37,102.90 L290.93,102.97 L291.50,103.03 L292.07,103.09 L292.63,103.14 L293.20,103.19 L293.77,103.22 L294.34,103.25 L294.90,103.27 L295.47,103.29 L296.04,103.29 L296.60,103.29 L297.17,103.27 L297.74,103.25 L298.31,103.22 L298.87,103.17 L299.44,103.11 L300.01,103.04 L300.58,102.95 L301.14,102.85 L301.71,102.73 L302.28,102.60 L302.84,102.44 L303.41,102.26 L303.98,102.06 L304.55,101.82 L305.11,101.55 L305.68,101.22 L306.25,100.80 L306.82,100.35 L307.38,99.91 L307.95,99.48 L308.52,99.05 L309.08,98.62 L309.65,98.21 L310.22,97.79 L310.79,97.38 L311.35,96.98 L311.92,96.58 L312.49,96.18 L313.05,95.79 L313.62,95.41 L314.19,95.03 L314.76,94.65 L315.32,94.27 L315.89,93.91 L316.46,93.54 L317.03,93.18 L317.59,92.82 L318.16,92.47 L318.73,92.12 L319.29,91.77 L319.86,91.43 L320.43,91.09 L321.00,90.76 L321.56,90.42 L322.13,90.10 L322.70,89.77 L323.27,89.45 L323.83,89.13 L324.40,88.82 L325.82,88.04 L327.24,87.29 L328.65,86.55 L330.07,85.83 L331.49,85.13 L332.91,84.44 L334.33,83.77 L335.75,83.11 L337.16,82.47 L338.58,81.85 L340.00,81.23 L341.42,80.63 L342.84,80.04 L344.25,79.47 L345.67,78.90 L347.09,78.35 L348.51,77.81 L349.93,77.28 L351.34,76.76 L352.76,76.25 L354.18,75.75 L355.60,75.26 L357.02,74.78 L358.44,74.31 L359.85,73.84 L361.27,73.39 L362.69,72.94 L364.11,72.50 L365.53,72.07 L366.94,71.65 L368.36,71.23 L369.78,70.82 L371.20,70.42 L372.62,70.02 L374.03,69.63 L375.45,69.25 L376.87,68.87 L378.29,68.50 L379.71,68.14 L381.12,67.78 L382.54,67.43 L383.96,67.08 L385.38,66.74 L386.80,66.40 L388.22,66.07 L389.63,65.75 L391.05,65.42 L392.47,65.11 L393.89,64.80 L395.31,64.49 L396.72,64.19 L398.14,63.89 L399.56,63.59 L400.98,63.30 L402.40,63.02 L403.81,62.74 L405.23,62.46 L406.65,62.18 L408.07,61.91 L409.49,61.65 L410.91,61.38 L412.32,61.12 L413.74,60.87 L415.16,60.62 L416.58,60.37 L418.00,60.12 L419.41,59.88 L420.83,59.64 L422.25,59.40 L423.67,59.17 L425.09,58.93 L426.50,58.71 L427.92,58.48 L429.34,58.26 L430.76,58.04 L432.18,57.82 L433.60,57.61 L435.01,57.40 L436.43,57.19 L437.85,56.98 L439.27,56.78 L440.69,56.57 L442.10,56.37 L443.52,56.18 L444.94,55.98 L446.36,55.79 L447.78,55.60 L449.19,55.41 L450.61,55.22 L452.03,55.04 L453.45,54.86 L454.87,54.68 L456.29,54.50 L457.70,54.32 L459.12,54.15 L460.54,53.98 L461.96,53.80 L463.38,53.64 L464.79,53.47 L466.21,53.30 L467.63,53.14 L469.05,52.98 L470.47,52.82 L471.88,52.66 L473.30,52.50 L474.72,52.35 L476.14,52.19 L477.56,52.04 L478.98,51.89 L480.39,51.74 L481.81,51.59 L483.23,51.45 L484.65,51.30 L486.07,51.16 L487.48,51.02 L488.90,50.88 L490.32,50.74 L491.74,50.60 L493.16,50.46 L494.57,50.33 L495.99,50.19 L497.41,50.06 L498.83,49.93 L500.25,49.80 L501.67,49.67 L503.08,49.54 L504.50,49.42 L505.92,49.29 L507.34,49.17 L508.76,49.04 L510.17,48.92 L511.59,48.80 L513.01,48.68 L514.43,48.56 L515.85,48.44 L517.26,48.33 L518.68,48.21 L520.10,48.09 L521.52,47.98 L522.94,47.87 L524.36,47.76 L525.77,47.65 L527.19,47.54 L528.61,47.43 L530.03,47.32 L531.45,47.21 L532.86,47.10 L534.28,47.00 L535.70,46.89 L537.12,46.79 L538.54,46.69 L539.95,46.59 L541.37,46.48 L542.79,46.38 L544.21,46.29 L545.63,46.19 L547.05,46.09 L548.46,45.99 L549.88,45.89 L551.30,45.80" stroke="#00ff00" stroke-dasharray="6 1.9 2.9 1.9"/>
<path d="M97.50,21.50 L98.92,21.74 L100.34,21.97 L101.75,22.21 L103.17,22.44 L104.59,22.68 L106.01,22.91 L107.43,23.15 L108.84,23.38 L110.26,23.62 L111.68,23.85 L113.10,24.09 L114.52,24.32 L115.94,24.56 L117.35,24.79 L118.77,25.03 L120.19,25.26 L121.61,25.50 L123.03,25.73 L124.44,25.97 L125.86,26.20 L127.28,26.43 L128.70,26.67 L130.12,26.90 L131.53,27.14 L132.95,27.37 L134.37,27.61 L135.79,27.84 L137.21,28.07 L138.63,28.31 L140.04,28.54 L141.46,28.78 L142.88,29.01 L144.30,29.24 L145.72,29.48 L147.13,29.71 L148.55,29.94 L149.97,30.18 L151.39,30.41 L152.81,30.64 L154.22,30.88 L155.64,31.11 L157.06,31.34 L158.48,31.57 L159.90,31.81 L161.32,32.04 L162.73,32.27 L164.15,32.50 L165.57,32.73 L166.99,32.97 L168.41,33.20 L169.82,33.43 L171.24,33.66 L172.66,33.89 L174.08,34.12 L175.50,34.35 L176.92,34.58 L178.33,34.81 L179.75,35.04 L181.17,35.27 L182.59,35.50 L184.01,35.73 L185.42,35.96 L186.84,36.19 L188.26,36.42 L189.68,36.65 L191.10,36.88 L192.51,37.11 L193.93,37.33 L195.35,37.56 L196.77,37.79 L198.19,38.02 L199.60,38.24 L201.02,38.47 L202.44,38.70 L203.86,38.92 L205.28,39.15 L206.70,39.38 L208.11,39.60 L209.53,39.83 L210.95,40.05 L212.37,40.28 L213.79,40.50 L215.20,40.72 L216.62,40.95 L218.04,41.17 L219.46,41.40 L220.88,41.62 L222.30,41.84 L223.71,42.06 L225.13,42.28 L226.55,42.51 L227.97,42.73 L229.39,42.95 L230.80,43.17 L232.22,43.39 L233.64,43.61 L235.06,43.83 L236.48,44.04 L237.89,44.26 L239.31,44.48 L240.73,44.70 L242.15,44.91 L243.57,45.13 L243.85,45.17 L243.91,45.18 L243.96,45.19 L244.02,45.20 L244.08,45.21 L244.13,45.22 L244.19,45.23 L244.25,45.23 L244.30,45.24 L244.36,45.25 L244.42,45.26 L244.47,45.27 L244.53,45.28 L244.59,45.29 L244.64,45.29 L244.70,45.30 L244.76,45.31 L244.81,45.32 L244.87,45.33 L244.93,45.34 L244.98,45.35 L245.04,45.36 L245.10,45.36 L245.16,45.37 L245.21,45.38 L245.27,45.39 L245.33,45.40 L245.38,45.41 L245.44,45.42 L245.50,45.42 L245.55,45.43 L245.61,45.44 L245.67,45.45 L245.72,45.46 L245.78,45.47 L245.84,45.48 L245.89,45.48 L245.95,45.49 L246.01,45.50 L246.06,45.51 L246.12,45.52 L246.18,45.53 L246.23,45.54 L246.29,45.54 L246.35,45.55 L246.40,45.56 L246.46,45.57 L246.52,45.58 L246.57,45.59 L246.63,45.60 L246.69,45.60 L246.74,45.61 L246.80,45.62 L246.86,45.63 L246.91,45.64 L246.97,45.65 L247.03,45.66 L247.08,45.67 L247.14,45.67 L247.20,45.68 L247.25,45.69 L247.31,45.70 L247.37,45.71 L247.42,45.72 L247.48,45.73 L247.54,45.73 L247.59,45.74 L247.65,45.75 L247.71,45.76 L247.76,45.77 L247.82,45.78 L247.88,45.79 L247.93,45.79 L247.99,45.80 L248.05,45.81 L248.10,45.82 L248.16,45.83 L248.22,45.84 L248.28,45.85 L248.33,45.85 L248.39,45.86 L248.45,45.87 L248.50,45.88 L248.56,45.89 L248.62,45.90 L248.67,45.91 L248.73,45.91 L248.79,45.92 L248.84,45.93 L248.90,45.94 L248.96,45.95 L249.01,45.96 L249.07,45.97 L249.13,45.97 L249.18,45.98 L249.24,45.99 L249.30,46.00 L249.35,46.01 L249.41,46.02 L249.47,46.03 L249.52,46.03 L249.58,46.04 L249.64,46.05 L249.69,46.06 L249.75,46.07 L249.81,46.08 L249.86,46.09 L249.92,46.09 L249.98,46.10 L250.03,46.11 L250.09,46.12 L250.15,46.13 L250.20,46.14 L250.26,46.15 L250.32,46.15 L250.37,46.16 L250.43,46.17 L250.49,46.18 L250.54,46.19 L250.60,46.20 L250.66,46.21 L250.71,46.21 L250.77,46.22 L250.83,46.23 L250.88,46.24 L250.94,46.25 L251.00,46.26 L251.05,46.27 L251.11,46.27 L251.17,46.28 L251.22,46.29 L251.28,46.30 L251.34,46.31 L251.39,46.32 L251.45,46.33 L251.51,46.33 L251.57,46.34 L251.62,46.35 L251.68,46.36 L251.74,46.37 L251.79,46.38 L251.85,46.38 L251.91,46.39 L251.96,46.40 L252.02,46.41 L252.08,46.42 L252.13,46.43 L252.19,46.44 L252.25,46.44 L252.30,46.45 L252.36,46.46 L252.42,46.47 L252.47,46.48 L252.53,46.49 L252.59,46.50 L252.64,46.50 L252.70,46.51 L252.76,46.52 L252.81,46.53 L252.87,46.54 L252.93,46.55 L252.98,46.56 L253.04,46.56 L253.10,46.57 L253.15,46.58 L253.21,46.59 L253.27,46.60 L253.32,46.61 L253.38,46.62 L253.44,46.62 L253.49,46.63 L253.55,46.64 L253.61,46.65 L253.66,46.66 L253.72,46.67 L253.78,46.67 L253.83,46.68 L253.89,46.69 L253.95,46.70 L254.00,46.71 L254.06,46.72 L254.12,46.73 L254.17,46.73 L254.23,46.74 L254.29,46.75 L254.34,46.76 L254.40,46.77 L254.46,46.78 L254.51,46.79 L254.57,46.79 L254.63,46.80 L254.68,46.81 L254.74,46.82 L254.80,46.83 L254.86,46.84 L254.91,46.84 L254.97,46.85 L255.03,46.86 L255.08,46.87 L255.14,46.88 L255.20,46.89 L255.25,46.90 L255.31,46.90 L255.37,46.91 L255.42,46.92 L255.48,46.93 L255.54,46.94 L255.59,46.95 L255.65,46.95 L255.71,46.96 L255.76,46.97 L255.82,46.98 L255.88,46.99 L255.93,47.00 L255.99,47.01 L256.05,47.01 L256.10,47.02 L256.16,47.03 L256.22,47.04 L256.27,47.05 L256.33,47.06 L256.90,47.14 L257.46,47.23 L258.03,47.31 L258.60,47.39 L259.17,47.48 L259.73,47.56 L260.30,47.65 L260.87,47.73 L261.44,47.81 L262.00,47.90 L262.57,47.98 L263.14,48.07 L263.70,48.15 L264.27,48.23 L264.84,48.32 L265.41,48.40 L265.97,48.48 L266.54,48.57 L267.11,48.65 L267.67,48.73 L268.24,48.81 L268.81,48.90 L269.38,48.98 L269.94,49.06 L270.51,49.14 L271.08,49.23 L271.65,49.31 L272.21,49.39 L272.78,49.47 L273.35,49.55 L273.91,49.64 L274.48,49.72 L275.05,49.80 L275.62,49.88 L276.18,49.96 L276.75,50.04 L277.32,50.12 L277.89,50.20 L278.45,50.29 L279.02,50.37 L279.59,50.45 L280.15,50.53 L280.72,50.61 L281.29,50.69 L281.86,50.77 L282.42,50.85 L282.99,50.93 L283.56,51.01 L284.13,51.09 L284.69,51.17 L285.26,51.24 L285.83,51.32 L286.39,51.40 L286.96,51.48 L287.53,51.56 L288.10,51.64 L288.66,51.72 L289.23,51.80 L289.80,51.87 L290.37,51.95 L290.93,52.03 L291.50,52.11 L292.07,52.19 L292.63,52.26 L293.20,52.34 L293.77,52.42 L294.34,52.50 L294.90,52.57 L295.47,52.65 L296.04,52.73 L296.60,52.80 L297.17,52.88 L297.74,52.95 L298.31,53.03 L298.87,53.11 L299.44,53.18 L300.01,53.26 L300.58,53.33 L301.14,53.41 L301.71,53.48 L302.28,53.56 L302.84,53.63 L303.41,53.71 L303.98,53.78 L304.55,53.86 L305.11,53.93 L305.68,54.00 L306.25,54.08 L306.82,54.15 L307.38,54.22 L307.95,54.30 L308.52,54.37 L309.08,54.44 L309.65,54.52 L310.22,54.59 L310.79,54.66 L311.35,54.73 L311.92,54.80 L312.49,54.88 L313.05,54.95 L313.62,55.02 L314.19,55.09 L314.76,55.16 L315.32,55.23 L315.89,55.30 L316.46,55.37 L317.03,55.44 L317.59,55.51 L318.16,55.58 L318.73,55.65 L319.29,55.72 L319.86,55.79 L320.43,55.86 L321.00,55.93 L321.56,56.00 L322.13,56.06 L322.70,56.13 L323.27,56.20 L323.83,56.27 L324.40,56.33 L325.82,56.50 L327.24,56.67 L328.65,56.83 L330.07,56.99 L331.49,57.15 L332.91,57.31 L334.33,57.47 L335.75,57.63 L337.16,57.78 L338.58,57.93 L340.00,58.08 L341.42,58.23 L342.84,58.38 L344.25,58.52 L345.67,58.66 L347.09,58.80 L348.51,58.94 L349.93,59.08 L351.34,59.21 L352.76,59.34 L354.18,59.47 L355.60,59.60 L357.02,59.72 L358.44,59.84 L359.85,59.96 L361.27,60.08 L362.69,60.19 L364.11,60.30 L365.53,60.41 L366.94,60.51 L368.36,60.61 L369.78,60.71 L371.20,60.80 L372.62,60.89 L374.03,60.97 L375.45,61.06 L376.87,61.13 L378.29,61.21 L379.71,61.28 L381.12,61.34 L382.54,61.40 L383.96,61.46 L385.38,61.51 L386.80,61.56 L388.22,61.60 L389.63,61.63 L391.05,61.66 L392.47,61.68 L393.89,61.69 L395.31,61.70 L396.72,61.70 L398.14,61.69 L399.56,61.68 L400.98,61.65 L402.40,61.62 L403.81,61.57 L405.23,61.52 L406.65,61.45 L408.07,61.37 L409.49,61.27 L410.91,61.15 L412.32,61.01 L413.74,60.84 L415.16,60.62 L416.58,60.37 L418.00,60.12 L419.41,59.88 L420.83,59.64 L422.25,59.40 L423.67,59.17 L425.09,58.93 L426.50,58.71 L427.92,58.48 L429.34,58.26 L430.76,58.04 L432.18,57.82 L433.60,57.61 L435.01,57.40 L436.43,57.19 L437.85,56.98 L439.27,56.78 L440.69,56.57 L442.10,56.37 L443.52,56.18 L444.94,55.98 L446.36,55.79 L447.78,55.60 L449.19,55.41 L450.61,55.22 L452.03,55.04 L453.45,54.86 L454.87,54.68 L456.29,54.50 L457.70,54.32 L459.12,54.15 L460.54,53.98 L461.96,53.80 L463.38,53.64 L464.79,53.47 L466.21,53.30 L467.63,53.14 L469.05,52.98 L470.47,52.82 L471.88,52.66 L473.30,52.50 L474.72,52.35 L476.14,52.19 L477.56,52.04 L478.98,51.89 L480.39,51.74 L481.81,51.59 L483.23,51.45 L484.65,51.30 L486.07,51.16 L487.48,51.02 L488.90,50.88 L490.32,50.74 L491.74,50.60 L493.16,50.46 L494.57,50.33 L495.99,50.19 L497.41,50.06 L498.83,49.93 L500.25,49.80 L501.67,49.67 L503.08,49.54 L504.50,49.42 L505.92,49.29 L507.34,49.17 L508.76,49.04 L510.17,48.92 L511.59,48.80 L513.01,48.68 L514.43,48.56 L515.85,48.44 L517.26,48.33 L518.68,48.21 L520.10,48.09 L521.52,47.98 L522.94,47.87 L524.36,47.76 L525.77,47.65 L527.19,47.54 L528.61,47.43 L530.03,47.32 L531.45,47.21 L532.86,47.10 L534.28,47.00 L535.70,46.89 L537.12,46.79 L538.54,46.69 L539.95,46.59 L541.37,46.48 L542.79,46.38 L544.21,46.29 L545.63,46.19 L547.05,46.09 L548.46,45.99 L549.88,45.89 L551.30,45.80" stroke="#c080ff" stroke-dasharray="4.5 3.5 1.2 3.5"/>
</g>
<path d="M535.55,43.5 V50.5" stroke="#fff" stroke-width="1.5" fill="none"/>
<rect x="97.50" y="21.50" width="453.80" height="301.00" fill="none" stroke="#000" stroke-width="1"/>
<text transform="translate(99.80,350.20) scale(1.040,1)" font-size="17.60" text-anchor="middle" xml:space="preserve">0</text>
<text transform="translate(156.53,350.20) scale(1.040,1)" font-size="17.60" text-anchor="middle" xml:space="preserve">2</text>
<text transform="translate(213.25,350.20) scale(1.040,1)" font-size="17.60" text-anchor="middle" xml:space="preserve">4</text>
<text transform="translate(269.97,350.20) scale(1.040,1)" font-size="17.60" text-anchor="middle" xml:space="preserve">6</text>
<text transform="translate(326.70,350.20) scale(1.040,1)" font-size="17.60" text-anchor="middle" xml:space="preserve">8</text>
<text transform="translate(384.02,350.20) scale(1.000,1)" font-size="17.60" text-anchor="middle" xml:space="preserve">10</text>
<text transform="translate(440.75,350.20) scale(1.000,1)" font-size="17.60" text-anchor="middle" xml:space="preserve">12</text>
<text transform="translate(497.47,350.20) scale(1.000,1)" font-size="17.60" text-anchor="middle" xml:space="preserve">14</text>
<text transform="translate(554.20,350.20) scale(1.000,1)" font-size="17.60" text-anchor="middle" xml:space="preserve">16</text>
<text transform="translate(87.60,28.80) scale(1.040,1)" font-size="17.60" text-anchor="end" xml:space="preserve">0°</text>
<text transform="translate(87.60,90.37) scale(1.040,1)" font-size="17.60" text-anchor="end" xml:space="preserve">-45°</text>
<text transform="translate(87.60,151.94) scale(1.040,1)" font-size="17.60" text-anchor="end" xml:space="preserve">-90°</text>
<text transform="translate(87.60,213.50) scale(1.040,1)" font-size="17.60" text-anchor="end" xml:space="preserve">-135°</text>
<text transform="translate(87.60,275.07) scale(1.040,1)" font-size="17.60" text-anchor="end" xml:space="preserve">-180°</text>
<text transform="translate(324.50,380.50) scale(1.040,1)" font-size="17.60" text-anchor="middle" xml:space="preserve">Impact parameter b / M</text>
<text transform="translate(23.40,289.30) rotate(-90) scale(1.040,1)" font-size="17.60" text-anchor="start" xml:space="preserve">Geodesic Deflection  Θ<tspan font-size="13.6" dy="3.5">geo</tspan><tspan dy="-3.5">(b)</tspan></text>
<text transform="translate(471.90,183.90) scale(1.040,1)" font-size="17.60" text-anchor="end" xml:space="preserve">Black hole</text>
<path d="M482.1,176.90 H530.9" stroke="#000000" stroke-width="2.80" fill="none"/>
<text transform="translate(471.90,214.20) scale(1.028,1)" font-size="17.60" text-anchor="end" xml:space="preserve">R = 2.5M</text>
<path d="M482.1,207.20 H530.9" stroke="#ff0000" stroke-width="2.80" fill="none" stroke-dasharray="6 1.8"/>
<text transform="translate(471.90,245.30) scale(1.028,1)" font-size="17.60" text-anchor="end" xml:space="preserve">R = 3.5M</text>
<path d="M482.1,238.30 H530.9" stroke="#0000ff" stroke-width="2.80" fill="none" stroke-dasharray="4.5 3.3"/>
<text transform="translate(471.90,275.80) scale(1.028,1)" font-size="17.60" text-anchor="end" xml:space="preserve">R = 6.0M</text>
<path d="M482.1,268.80 H530.9" stroke="#00ff00" stroke-width="2.80" fill="none" stroke-dasharray="6 1.9 2.9 1.9"/>
<text transform="translate(471.90,306.40) scale(1.028,1)" font-size="17.60" text-anchor="end" xml:space="preserve">R = 10.0M</text>
<path d="M482.1,299.40 H530.9" stroke="#c080ff" stroke-width="2.80" fill="none" stroke-dasharray="4.5 3.5 1.2 3.5"/>
</svg></body></html>
